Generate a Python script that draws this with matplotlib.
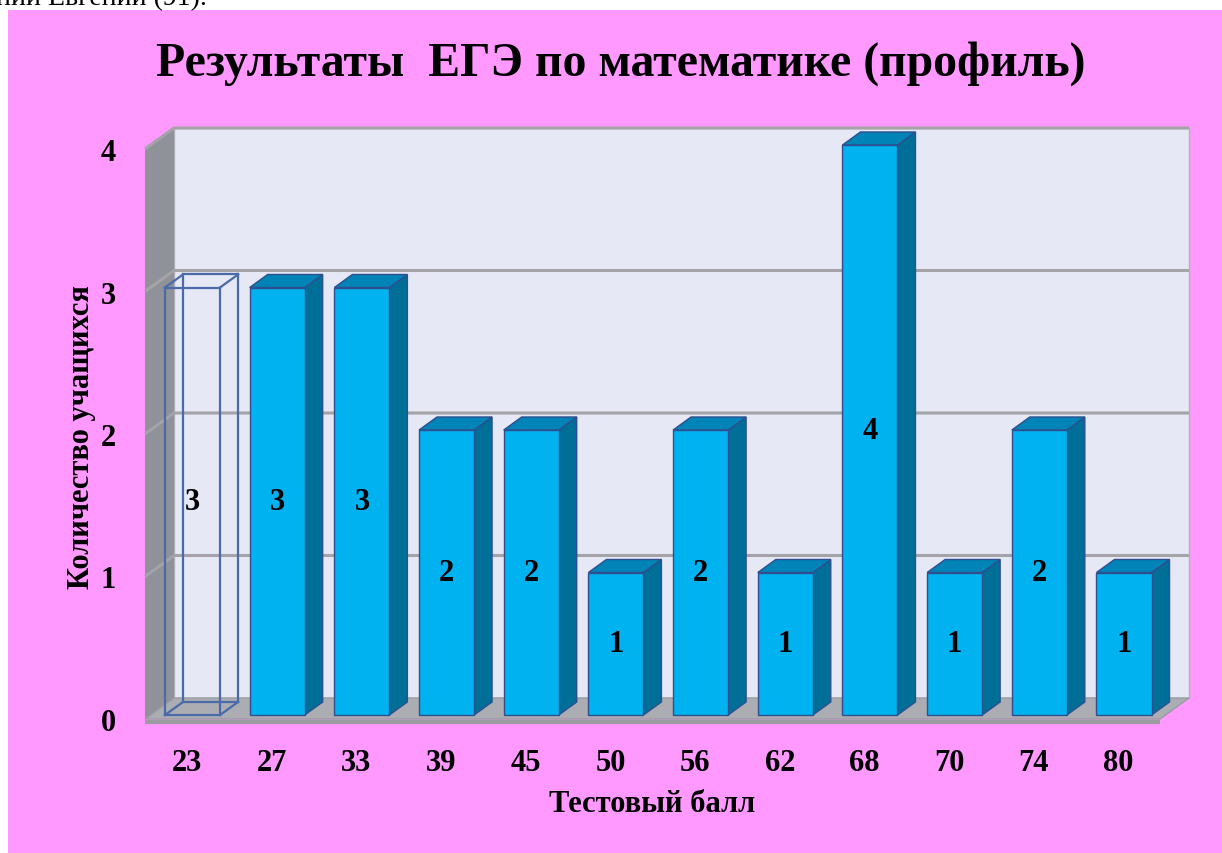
import matplotlib.pyplot as plt
from matplotlib.patches import Polygon, Rectangle

# data
scores = ['23', '27', '33', '39', '45', '50', '56', '62', '68', '70', '74', '80']
counts = [3, 3, 3, 2, 2, 1, 2, 1, 4, 1, 2, 1]
hollow = [0]  # first bar is drawn as a wire box

title = 'Результаты  ЕГЭ по математике (профиль)'
xlabel = 'Тестовый балл'
ylabel = 'Количество учащихся'

plt.rcParams['font.family'] = ['Liberation Serif', 'DejaVu Serif']
plt.rcParams['font.weight'] = 'bold'

W, H = 1222, 854
fig = plt.figure(figsize=(W / 100, H / 100), dpi=100, facecolor='white')

# pink card
fig.patches.append(Rectangle((8 / W, 0), 1, 1 - 11 / H, transform=fig.transFigure,
                             facecolor='#ff99ff', edgecolor='none', zorder=-10))
# leftover line of page text above the card
fig.text(-4 / W, 1 - 5 / H, 'ний Евгений (91).', fontsize=20, fontweight='normal',
         va='baseline', ha='left')

ax = fig.add_axes([145 / W, 134 / H, 1015 / W, 570 / H])
ax.set_facecolor('none')
xmin, xmax = -0.496, 11.49
ax.set_xlim(xmin, xmax)
ax.set_ylim(0, 4)
for s in ax.spines.values():
    s.set_visible(False)

# depth offset (data units) for full wall depth
DX = 29 / 84.7
DY = 21 / 142.5


def P(x, y, d):
    return (x + d * DX, y + d * DY)


def poly(pts, fc, ec='none', lw=0, z=1):
    ax.add_patch(Polygon(pts, closed=True, facecolor=fc, edgecolor=ec,
                         linewidth=lw, zorder=z, clip_on=False))


top = 4
# back wall
poly([P(xmin, 0, 1), P(xmax, 0, 1), P(xmax, top, 1), P(xmin, top, 1)],
     '#e6e8f6', '#b0b0b8', 1.0, z=1)
# side wall
poly([P(xmin, 0, 0), P(xmin, top, 0), P(xmin, top, 1), P(xmin, 0, 1)], '#8f9298', z=1)
# floor
poly([P(xmin, 0, 0), P(xmax, 0, 0), P(xmax, 0, 1), P(xmin, 0, 1)], '#abadb3',
     '#9a9ca2', 1.0, z=1)
ax.plot([xmin, xmax], [-0.02, -0.02], color='#9a9ca2', lw=3, zorder=1, clip_on=False,
        solid_capstyle='butt')

# gridlines on walls
for v in range(1, top + 1):
    a, b, c = P(xmin, v, 0), P(xmin, v, 1), P(xmax, v, 1)
    ax.plot([a[0], b[0], c[0]], [a[1], b[1], c[1]], color='#a3a3a8', lw=2.2,
            zorder=2, clip_on=False, solid_capstyle='butt')

# bars
w = 0.65
d0, d1 = 0.19, 0.81
for i, v in enumerate(counts):
    x0, x1 = i - w / 2, i + w / 2
    if i in hollow:
        corners = {}
        for xx in (x0, x1):
            for yy in (0, v):
                for dd in (d0, d1):
                    corners[(xx, yy, dd)] = P(xx, yy, dd)
        edges = []
        for (xx, yy, dd) in corners:
            if xx == x0:
                edges.append(((x0, yy, dd), (x1, yy, dd)))
            if yy == 0:
                edges.append(((xx, 0, dd), (xx, v, dd)))
            if dd == d0:
                edges.append(((xx, yy, d0), (xx, yy, d1)))
        for e0, e1 in edges:
            p0, p1 = corners[e0], corners[e1]
            ax.plot([p0[0], p1[0]], [p0[1], p1[1]], color='#4a6aa8', lw=1.6,
                    zorder=4, clip_on=False)
    else:
        poly([P(x1, 0, d0), P(x1, v, d0), P(x1, v, d1), P(x1, 0, d1)],
             '#006f98', '#2f4f8f', 1.0, z=4)
        poly([P(x0, v, d0), P(x1, v, d0), P(x1, v, d1), P(x0, v, d1)],
             '#0083b6', '#2f4f8f', 1.0, z=4)
        poly([P(x0, 0, d0), P(x1, 0, d0), P(x1, v, d0), P(x0, v, d0)],
             '#00b2f0', '#2f4f8f', 1.0, z=5)
    lx, ly = P(i, v / 2, d0)
    ax.text(lx, ly, str(v), ha='center', va='center', fontsize=22,
            fontweight='bold', zorder=6)

ax.set_xticks(range(len(scores)))
ax.set_xticklabels(scores)
ax.set_yticks(range(0, top + 1))
ax.tick_params(axis='both', length=0, labelsize=22)
ax.tick_params(axis='x', pad=21)
ax.tick_params(axis='y', pad=21)
for lab in ax.get_xticklabels() + ax.get_yticklabels():
    lab.set_fontweight('bold')

fig.text(621 / W, 1 - 64 / H, title, ha='center', va='center', fontsize=34.4,
         fontweight='bold')
fig.text(652 / W, 1 - 805 / H, xlabel, ha='center', va='center', fontsize=22,
         fontweight='bold')
fig.text(82 / W, 1 - 437 / H, ylabel, ha='center', va='center', rotation=90,
         fontsize=22, fontweight='bold')

fig.savefig('out.png', dpi=100)
